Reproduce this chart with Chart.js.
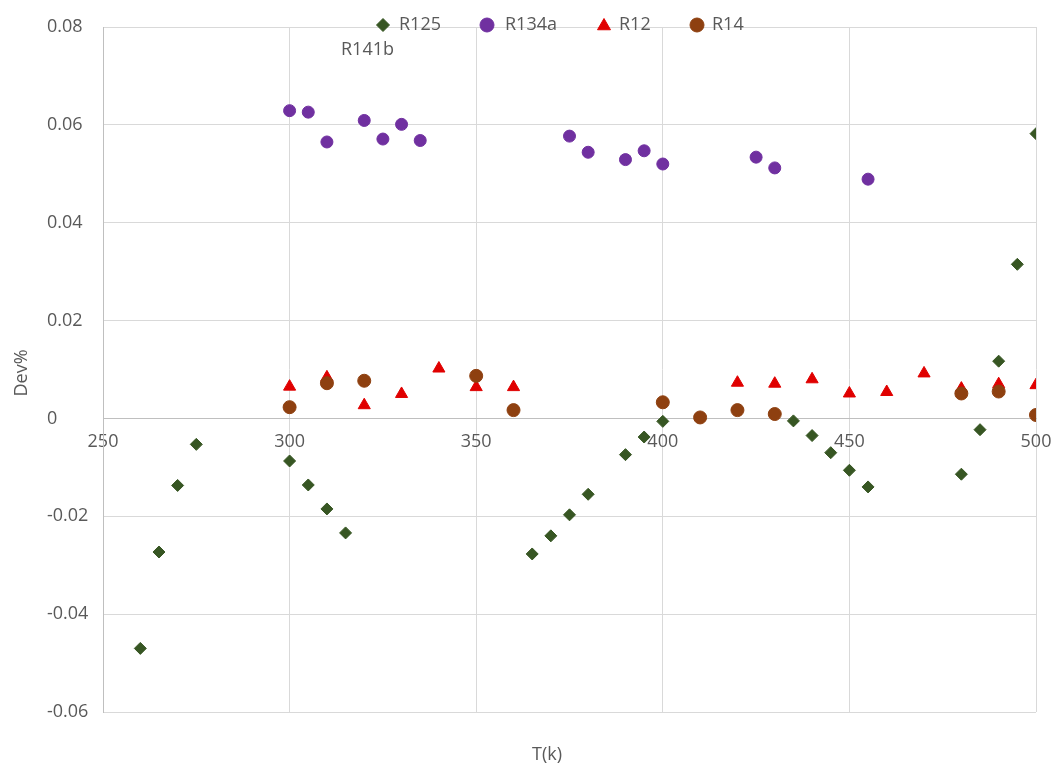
<!DOCTYPE html>
<html>
<head>
<meta charset="utf-8">
<script src="https://cdn.jsdelivr.net/npm/chart.js@4.4.1/dist/chart.umd.min.js"></script>
<style>
html,body{margin:0;padding:0;background:#fff;}
#wrap{width:1053px;height:767px;position:relative;}
</style>
</head>
<body>
<div id="wrap"><canvas id="c" width="1053" height="767"></canvas></div>
<script>
// ---- data ----
const seriesNames = ["R125", "R134a", "R12", "R14", "R141b"];

const r125T = [260, 265, 270, 275, 300, 305, 310, 315, 365, 370, 375, 380, 390, 395, 400, 435, 440, 445, 450, 455, 480, 485, 490, 495, 500];
const r125V = [-0.047, -0.0273, -0.0137, -0.0053, -0.0087, -0.0136, -0.0185, -0.0234, -0.0277, -0.024, -0.0197, -0.0155, -0.0074, -0.0038, -0.0006, -0.0005, -0.0035, -0.007, -0.0106, -0.014, -0.0114, -0.0023, 0.0117, 0.0315, 0.0582];

const r134aT = [300, 305, 310, 320, 325, 330, 335, 375, 380, 390, 395, 400, 425, 430, 455];
const r134aV = [0.0629, 0.0626, 0.0565, 0.0609, 0.0571, 0.0601, 0.0568, 0.0577, 0.0544, 0.0529, 0.0547, 0.052, 0.0534, 0.0512, 0.0489];

const r12T = [300, 310, 320, 330, 340, 350, 360, 420, 430, 440, 450, 460, 470, 480, 490, 500];
const r12V = [0.0065, 0.0084, 0.0027, 0.005, 0.0102, 0.0064, 0.0064, 0.0073, 0.0071, 0.008, 0.0051, 0.0054, 0.0092, 0.0061, 0.007, 0.0068];

const r14T = [300, 310, 320, 350, 360, 400, 410, 420, 430, 480, 490, 500];
const r14V = [0.0023, 0.0072, 0.0077, 0.0087, 0.0017, 0.0033, 0.0002, 0.0017, 0.0009, 0.0051, 0.0055, 0.0007];

const xTicks = [250, 300, 350, 400, 450, 500];
const yTickLabels = ["0.08", "0.06", "0.04", "0.02", "0", "-0.02", "-0.04", "-0.06"];

const xTitle = "T(k)";
const yTitle = "Dev%";

// ---- helpers ----
function pts(t, v) { return t.map((x, i) => ({ x: x, y: v[i] })); }

const colors = {
  R125: "#375623",
  R134a: "#7030A0",
  R12: "#E00000",
  R14: "#8E4010"
};
const TXT = "#595959";
const FONT = "Open Sans";
const FS = 18;

const legendPlugin = {
  id: "customLegend",
  afterDraw(chart) {
    const ctx = chart.ctx;
    ctx.save();
    ctx.font = FS + "px '" + FONT + "'";
    ctx.fillStyle = TXT;
    ctx.textBaseline = "middle";
    ctx.textAlign = "left";
    const y = 25;
    const items = [
      { name: seriesNames[0], style: "rectRot", color: colors.R125, mx: 383, tx: 399, r: 6.5 },
      { name: seriesNames[1], style: "circle", color: colors.R134a, mx: 487, tx: 505, r: 7 },
      { name: seriesNames[2], style: "triangle", color: colors.R12, mx: 604, tx: 619, r: 7.5 },
      { name: seriesNames[3], style: "circle", color: colors.R14, mx: 697, tx: 712, r: 7 }
    ];
    items.forEach(it => {
      ctx.fillStyle = it.color;
      ctx.strokeStyle = it.color;
      Chart.helpers.drawPoint(ctx, { pointStyle: it.style, radius: it.r, borderWidth: 1, rotation: 0 }, it.mx, y + (it.style === "triangle" ? 1 : 0));
      ctx.fillStyle = TXT;
      ctx.fillText(it.name, it.tx, y);
    });
    ctx.fillText(seriesNames[4], 341, 50);

    // axis titles
    ctx.textAlign = "center";
    ctx.fillText(xTitle, 547, 755);
    ctx.translate(22, 373);
    ctx.rotate(-Math.PI / 2);
    ctx.fillText(yTitle, 0, 0);
    ctx.restore();
  }
};

const ctx = document.getElementById("c").getContext("2d");
new Chart(ctx, {
  type: "scatter",
  data: {
    datasets: [
      { label: seriesNames[0], data: pts(r125T, r125V), pointStyle: "rectRot", pointRadius: 6, pointHoverRadius: 6,
        backgroundColor: colors.R125, borderColor: colors.R125, borderWidth: 1, order: 4 },
      { label: seriesNames[1], data: pts(r134aT, r134aV), pointStyle: "circle", pointRadius: 6, pointHoverRadius: 6,
        backgroundColor: colors.R134a, borderColor: colors.R134a, borderWidth: 1, order: 3 },
      { label: seriesNames[2], data: pts(r12T, r12V), pointStyle: "triangle", pointRadius: 7, pointHoverRadius: 7,
        backgroundColor: colors.R12, borderColor: colors.R12, borderWidth: 1, order: 2 },
      { label: seriesNames[3], data: pts(r14T, r14V), pointStyle: "circle", pointRadius: 6.5, pointHoverRadius: 6.5,
        backgroundColor: colors.R14, borderColor: colors.R14, borderWidth: 1, order: 1 },
      { label: seriesNames[4], data: [], pointRadius: 0, order: 5 }
    ]
  },
  options: {
    responsive: false,
    animation: false,
    events: [],
    layout: { padding: { left: 47, right: 17, top: 27, bottom: 55 } },
    plugins: {
      legend: { display: false },
      tooltip: { enabled: false },
      title: { display: false }
    },
    scales: {
      x: {
        type: "linear",
        position: { y: 0 },
        min: 250, max: 500,
        afterBuildTicks(scale) { scale.ticks = xTicks.map(v => ({ value: v })); },
        afterFit(scale) { scale.paddingLeft = 0; scale.paddingRight = 0; },
        ticks: {
          color: TXT,
          font: { family: FONT, size: FS },
          padding: 13,
          maxRotation: 0,
          autoSkip: false,
          callback: v => String(v)
        },
        grid: { color: "#d9d9d9", lineWidth: 1, drawTicks: false },
        border: { color: "#bfbfbf", width: 1 }
      },
      y: {
        type: "linear",
        position: "left",
        min: -0.06, max: 0.08,
        afterBuildTicks(scale) {
          scale.ticks = yTickLabels.map(s => ({ value: parseFloat(s) }));
        },
        afterFit(scale) { scale.width = 56; scale.paddingTop = 0; scale.paddingBottom = 0; },
        ticks: {
          color: TXT,
          font: { family: FONT, size: FS },
          crossAlign: "far",
          padding: 8,
          autoSkip: false,
          callback: function (v) {
            const i = yTickLabels.findIndex(s => Math.abs(parseFloat(s) - v) < 1e-9);
            return i >= 0 ? yTickLabels[i] : "";
          }
        },
        grid: { color: "#d9d9d9", lineWidth: 1, drawTicks: false },
        border: { color: "#bfbfbf", width: 1 }
      }
    }
  },
  plugins: [legendPlugin]
});
</script>
</body>
</html>
